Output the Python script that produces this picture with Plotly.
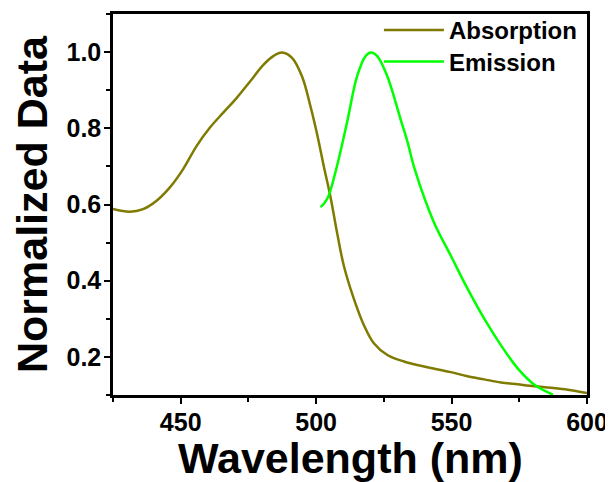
import plotly.graph_objects as go

# Absorption spectrum (normalized)
abs_wl = [425, 431.2, 436.1, 441.1, 446, 450.9, 455.9, 460.8, 465.7, 470.7, 475.6, 480.6, 484.3,
          487.4, 491.1, 494.8, 497.9, 500.5, 502.8, 505.3, 507.7, 510.2, 513.9, 517.6, 521.3,
          526.3, 532.4, 541.1, 549.7, 555.9, 562, 568.2, 574.4, 580.6, 586.7, 592.9, 600]
abs_val = [0.588, 0.581, 0.588, 0.610, 0.645, 0.693, 0.754, 0.802, 0.841, 0.880, 0.923, 0.967, 0.990,
           0.999, 0.985, 0.936, 0.858, 0.780, 0.701, 0.620, 0.527, 0.440, 0.353, 0.284, 0.236,
           0.205, 0.188, 0.173, 0.160, 0.149, 0.141, 0.133, 0.128, 0.123, 0.119, 0.114, 0.105]

# Emission spectrum (normalized)
em_wl = [501.6, 503, 504.6, 507.7, 511.4, 515.1, 518.2, 520.1, 522.6, 526.3, 531.2, 533.7,
         536.5, 543.5, 549.7, 555.9, 562, 568.2, 574.4, 580.6, 587.4]
em_val = [0.593, 0.603, 0.623, 0.701, 0.815, 0.936, 0.989, 0.999, 0.989, 0.936, 0.823, 0.765,
          0.690, 0.553, 0.466, 0.379, 0.301, 0.231, 0.170, 0.127, 0.101]

series_names = ["Absorption", "Emission"]
x_ticks = [450, 500, 550, 600]
y_ticks = [0.2, 0.4, 0.6, 0.8, 1.0]
x_title = "Wavelength (nm)"
y_title = "Normalized Data"

font_family = "Liberation Sans, Arial, sans-serif"

fig = go.Figure()
fig.add_trace(go.Scatter(x=abs_wl, y=abs_val, mode="lines", name=series_names[0], legend="legend",
                         line=dict(color="#7f7a00", width=2.5, shape="spline", smoothing=1.0)))
fig.add_trace(go.Scatter(x=em_wl, y=em_val, mode="lines", name=series_names[1], legend="legend2",
                         line=dict(color="#00ff00", width=2.5, shape="spline", smoothing=1.0)))

leg_common = dict(xanchor="left", yanchor="middle", bgcolor="rgba(0,0,0,0)", borderwidth=0,
                  font=dict(size=24, family=font_family, weight="bold", color="black"),
                  itemwidth=60)

axis_common = dict(ticks="outside", ticklen=6, tickwidth=2, tickcolor="black", showline=True,
                   linecolor="black", linewidth=2.5, mirror=True, showgrid=False, zeroline=False,
                   automargin=False, tickfont=dict(size=25, family=font_family, weight="bold",
                                                   color="black"))

fig.update_layout(
    width=605, height=474,
    margin=dict(l=105, r=26, t=6, b=87, autoexpand=False),
    paper_bgcolor="white", plot_bgcolor="white",
    font=dict(family=font_family, color="black"),
    showlegend=True,
    legend=dict(x=0.561, y=0.957, **leg_common),
    legend2=dict(x=0.561, y=0.874, **leg_common),
    xaxis=dict(range=[425, 600], tickvals=x_ticks, ticklabelstandoff=-3,
               minor=dict(dtick=25, tick0=425, ticks="outside", ticklen=4, tickwidth=2,
                          tickcolor="black"),
               **axis_common),
    yaxis=dict(range=[0.1, 1.1], tickvals=y_ticks, tickformat=".1f", ticklabelstandoff=-2,
               minor=dict(dtick=0.1, tick0=0.1, ticks="outside", ticklen=4, tickwidth=2,
                          tickcolor="black"),
               **axis_common),
    annotations=[
        dict(text=x_title, xref="paper", yref="paper", x=0.5, y=-0.166, xanchor="center",
             yanchor="middle", showarrow=False,
             font=dict(size=43, family=font_family, weight="bold", color="black")),
        dict(text=y_title, xref="paper", yref="paper", x=-0.171, y=0.501, xanchor="center",
             yanchor="middle", showarrow=False, textangle=-90,
             font=dict(size=43, family=font_family, weight="bold", color="black")),
    ],
)

fig.write_html("out.html")
